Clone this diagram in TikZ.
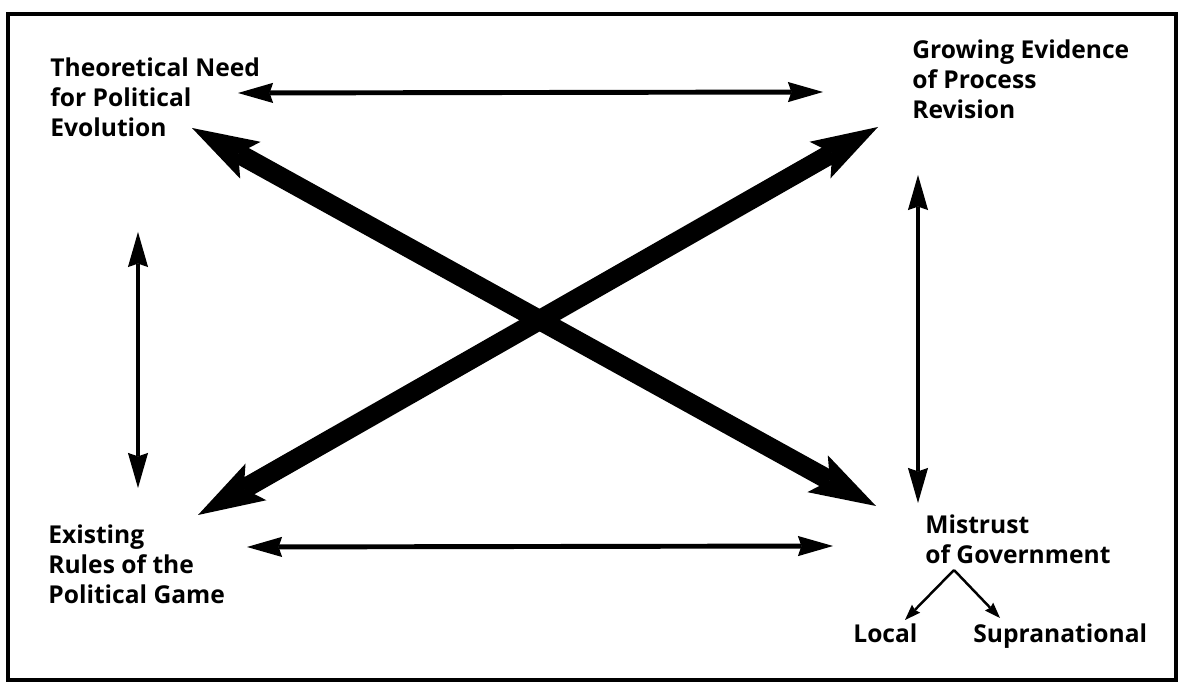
\documentclass[tikz,border=0pt]{standalone}
\usepackage{fontspec}
\setmainfont{Open Sans}
\usetikzlibrary{arrows.meta}

\begin{document}
\begin{tikzpicture}[x=0.02cm, y=-0.02cm, line join=miter]

\tikzset{
  lab/.style={font=\fontsize{14}{17.3}\selectfont\bfseries, align=left, inner sep=0pt, anchor=north west},
  arr/.style={line width=2.8pt, {Stealth[length=20pt,width=11.5pt,inset=2pt,line width=0pt]}-{Stealth[length=20pt,width=11.5pt,inset=2pt,line width=0pt]}},
  fat/.style={line width=11.3pt, {Stealth[length=38pt,width=24pt,inset=8pt,line width=0pt]}-{Stealth[length=38pt,width=24pt,inset=8pt,line width=0pt]}},
  sub/.style={line width=1.4pt, -{Stealth[length=9pt,width=6.5pt,inset=1pt,line width=0pt]}}
}

\useasboundingbox (0,0) rectangle (1191,688);
\draw[line width=2.4pt] (8,14) rectangle (1176,680);

% the four corners
\node[lab] (theory) at (50,57) {Theoretical Need\\for Political\\Evolution};
\node[lab] (growing) at (912,39) {Growing Evidence\\of Process\\Revision};
\node[lab] (rules) at (48,524) {Existing\\Rules of the\\Political Game};
\node[lab] (mistrust) at (925,514) {Mistrust\\of Government};
\node[lab, anchor=base west] (local) at (853,643) {Local};
\node[lab, anchor=base west] (supra) at (973,643) {Supranational};

% arrow ends
\coordinate (theoE) at (238,93);
\coordinate (growW) at (823,92);
\coordinate (theoS) at (138,232);
\coordinate (rulesN) at (138,488);
\coordinate (rulesE) at (247,547);
\coordinate (mistW) at (833,546);
\coordinate (growS) at (918,175);
\coordinate (mistN) at (918,503);
\coordinate (theoX) at (192,128);
\coordinate (mistX) at (876,506);
\coordinate (rulesX) at (198,515);
\coordinate (growX) at (878,127);
\coordinate (split) at (954,570);
\coordinate (localN) at (905,620);
\coordinate (supraN) at (1000,618);

\draw[arr] (theoE) -- (growW);
\draw[arr] (rulesE) -- (mistW);
\draw[arr] (theoS) -- (rulesN);
\draw[arr] (growS) -- (mistN);

\draw[fat] (theoX) -- (mistX);
\draw[fat] (rulesX) -- (growX);

\draw[sub] (split) -- (localN);
\draw[sub] (split) -- (supraN);

\end{tikzpicture}
\end{document}
